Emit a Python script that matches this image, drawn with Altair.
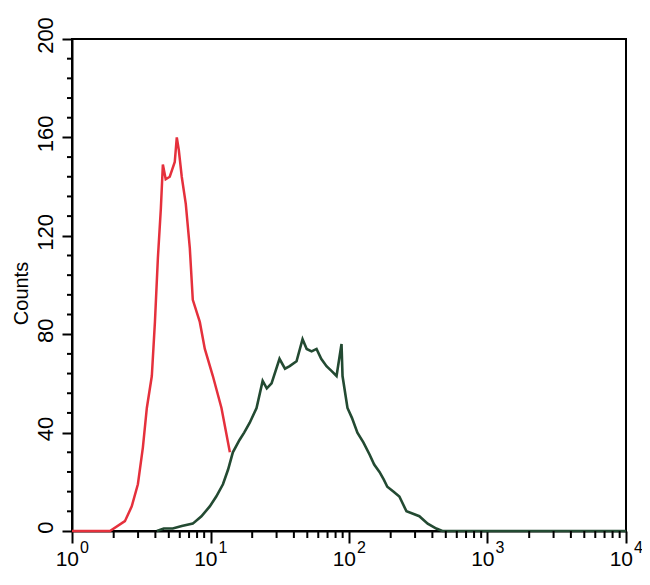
import altair as alt
import pandas as pd

# ---- data ----
red_x = [1.0, 1.88, 2.41, 2.7, 2.99, 3.25, 3.47, 3.77, 3.97, 4.17, 4.38, 4.53, 4.75, 5.08,
         5.52, 5.71, 5.9, 6.2, 6.63, 7.09, 7.45, 8.37, 9.1, 10.4, 12.0, 13.8]
red_y = [0, 0, 4, 10, 19, 34, 50, 63, 85, 111, 131, 149, 143, 144,
         150, 160, 155, 144, 133, 115, 94, 85, 74, 63, 50, 32]

green_x = [4.1, 4.6, 5.34, 6.2, 7.45, 8.6, 9.88, 11.0, 12.3, 13.4, 14.5, 16.2, 17.5, 19.2,
           21.5, 23.8, 25.5, 27.6, 31.5, 34.5, 37.3, 41.8, 46.2, 49.5, 53.7, 58.3,
           63.0, 68.8, 75.0, 81.3, 88.3, 89.8, 97.5, 105, 115, 127, 141, 152, 166,
           178, 189, 210, 231, 260, 290, 322, 370, 427, 472, 10000]
green_y = [0, 1, 1, 2, 3, 6, 10, 14, 19, 25, 32, 37, 40, 44,
           50, 61, 58, 60, 70, 66, 67, 69, 78, 74, 73, 74,
           70, 67, 65, 63, 76, 63, 50, 46, 40, 36, 31, 27, 24,
           21, 18, 16, 14, 8, 7, 6, 3, 1, 0, 0]

x_major = [1, 10, 100, 1000, 10000]
x_base = ["10", "10", "10", "10", "10"]
x_exp = ["0", "1", "2", "3", "4"]
x_minor = [k * 10 ** d for d in range(4) for k in range(2, 10)]

y_major = [0, 40, 80, 120, 160, 200]
y_minor = [v for v in range(0, 201, 8) if v % 40 != 0]

RED = "#e5303c"
GREEN = "#234a32"
FONT = "Liberation Sans"
W, H = 554, 492

red_df = pd.DataFrame({"v": red_x, "c": red_y})
green_df = pd.DataFrame({"v": green_x, "c": green_y})
lab_df = pd.DataFrame({"v": x_major, "b": x_base, "e": x_exp})
xmin_df = pd.DataFrame({"v": x_minor})
ymin_df = pd.DataFrame({"c": y_minor})

xscale = alt.Scale(type="log", domain=[1, 10000], nice=False)
yscale = alt.Scale(domain=[0, 200], nice=False)

x_axis = alt.Axis(values=x_major, labels=False, title=None, tickSize=12,
                  tickWidth=2, domainWidth=2, grid=False)
y_axis = alt.Axis(values=y_major, title="Counts", tickSize=10, tickWidth=2,
                  domainWidth=2, grid=False, labelAngle=270,
                  labelAlign="center", labelBaseline="bottom",
                  labelPadding=5, labelOffset=-4, labelFlush=False,
                  labelFontSize=22, labelFont=FONT,
                  titleFont=FONT, titleFontSize=20, titleFontWeight="normal",
                  titleBaseline="bottom", titleX=-41, titleY=254)

X = alt.X("v:Q", scale=xscale, axis=x_axis)
Y = alt.Y("c:Q", scale=yscale, axis=y_axis)

red = alt.Chart(red_df).mark_line(color=RED, strokeWidth=2.5).encode(
    x=X, y=Y, order="v:Q")

green = alt.Chart(green_df).mark_line(color=GREEN, strokeWidth=2.6).encode(
    x=X, y=Y, order="v:Q")

xminor = alt.Chart(xmin_df).mark_rule(color="black", strokeWidth=2).encode(
    x=X, y=alt.value(H), y2=alt.value(H + 7))

yminor = alt.Chart(ymin_df).mark_rule(color="black", strokeWidth=2).encode(
    y=Y, x=alt.value(-5), x2=alt.value(0))

lab_base = alt.Chart(lab_df).mark_text(
    font=FONT, fontSize=21, align="right", baseline="alphabetic", dx=7, color="black"
).encode(x=X, y=alt.value(H + 35), text="b:N")

lab_exp = alt.Chart(lab_df).mark_text(
    font=FONT, fontSize=16, align="left", baseline="alphabetic", dx=8, color="black"
).encode(x=X, y=alt.value(H + 22), text="e:N")

chart = alt.layer(red, green, xminor, yminor, lab_base, lab_exp).properties(
    width=W,
    height=H,
    padding={"left": 64, "top": 31, "right": 16, "bottom": 40},
    autosize=alt.AutoSizeParams(type="none"),
    background="white",
).configure_view(
    stroke="black", strokeWidth=2
).configure_axis(
    domainColor="black", tickColor="black", labelColor="black", titleColor="black"
)

chart.save("out.html", embed_options={"renderer": "svg", "actions": False})
